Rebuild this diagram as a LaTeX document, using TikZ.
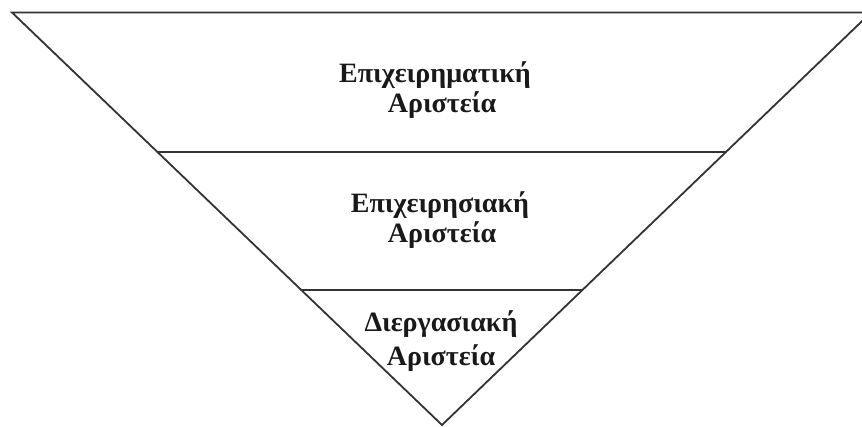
\documentclass[tikz,border=0pt]{standalone}
\usepackage{fontspec}
\setmainfont{Liberation Serif}
\usetikzlibrary{calc}
\begin{document}
\begin{tikzpicture}[x=1pt,y=-1pt,
  edge/.style={line width=1.8pt,draw=black!80,line cap=round,line join=miter},
  lbl/.style={font=\bfseries\fontsize{28}{32}\selectfont,anchor=base,inner sep=0pt,text=black!90}]
\useasboundingbox (0,0) rectangle (862,427);
\coordinate (TL) at (12,12.5);
\coordinate (TR) at (871,12.5);
\coordinate (A) at (442,425);
\draw[edge] (TL) -- (TR) -- (A) -- cycle;
\coordinate (L1) at ($(TL)!0.3382!(A)$);
\coordinate (R1) at ($(TR)!0.3382!(A)$);
\coordinate (L2) at ($(TL)!0.6727!(A)$);
\coordinate (R2) at ($(TR)!0.6727!(A)$);
\draw[edge] (L1) -- (R1);
\draw[edge] (L2) -- (R2);
\node[lbl] (t1a) at (435,83) {Επιχειρηματική};
\node[lbl] (t1b) at (442,113) {Αριστεία};
\node[lbl] (t2a) at (440,213) {Επιχειρησιακή};
\node[lbl] (t2b) at (442,243) {Αριστεία};
\node[lbl] (t3a) at (441,332) {Διεργασιακή};
\node[lbl] (t3b) at (441,366) {Αριστεία};
\end{tikzpicture}
\end{document}
